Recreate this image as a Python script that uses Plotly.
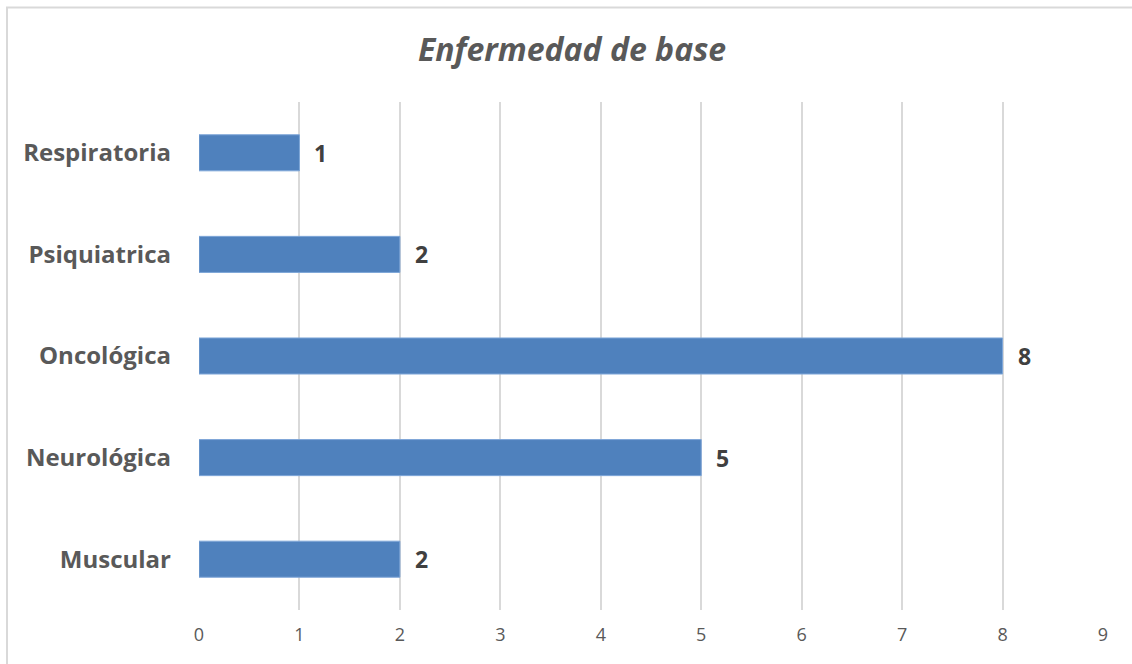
import plotly.graph_objects as go

categories = ["Muscular", "Neurológica", "Oncológica", "Psiquiatrica", "Respiratoria"]
values = [2, 5, 8, 2, 1]
x_ticks = [0, 1, 2, 3, 4, 5, 6, 7, 8, 9]
title_text = "Enfermedad de base"

W, H = 1132, 664
L, R, T, B = 199, 29, 102, 54
pw, ph = W - L - R, H - T - B

TEXT = "#595959"
FONT = "Open Sans"

fig = go.Figure(go.Bar(
    y=categories, x=values, orientation="h",
    marker=dict(color="#4F81BD", line=dict(color="#7EA6D8", width=1)),
    width=0.355,
    hoverinfo="x+y",
))

for c, v in zip(categories, values):
    fig.add_annotation(x=v, y=c, text="<b>%d</b>" % v, showarrow=False,
                       xanchor="left", yanchor="middle", xshift=13,
                       font=dict(family=FONT, size=23, color="#404040"))

fig.update_layout(
    width=W, height=H,
    margin=dict(l=L, r=R, t=T, b=B),
    paper_bgcolor="white", plot_bgcolor="white",
    showlegend=False,
    title=dict(text="<b><i>" + title_text + "</i></b>", x=572 / W, xanchor="center",
               y=1 - 50 / H, yanchor="middle",
               font=dict(family=FONT, size=32, color=TEXT)),
    xaxis=dict(range=[0, 9], tickvals=x_ticks, showgrid=True, gridcolor="#D9D9D9", gridwidth=2,
               zeroline=False, showline=False, ticks="",
               tickfont=dict(family=FONT, size=18, color=TEXT), ticklabelstandoff=12),
    yaxis=dict(range=[-0.5, 4.5], showgrid=False, zeroline=False, showline=False, ticks="",
               tickfont=dict(family=FONT, size=24, color=TEXT, weight="bold"), ticklabelstandoff=27),
)

fig.add_shape(type="rect", xref="paper", yref="paper",
              x0=(7 - L) / pw, x1=(W + 10 - L) / pw,
              y0=(H - B - (H + 10)) / ph, y1=(H - B - 7.5) / ph,
              line=dict(color="#D9D9D9", width=2), fillcolor="rgba(0,0,0,0)", layer="below")

fig.write_html("out.html", config={"displayModeBar": False},
               post_script="document.body.style.margin='0';")
